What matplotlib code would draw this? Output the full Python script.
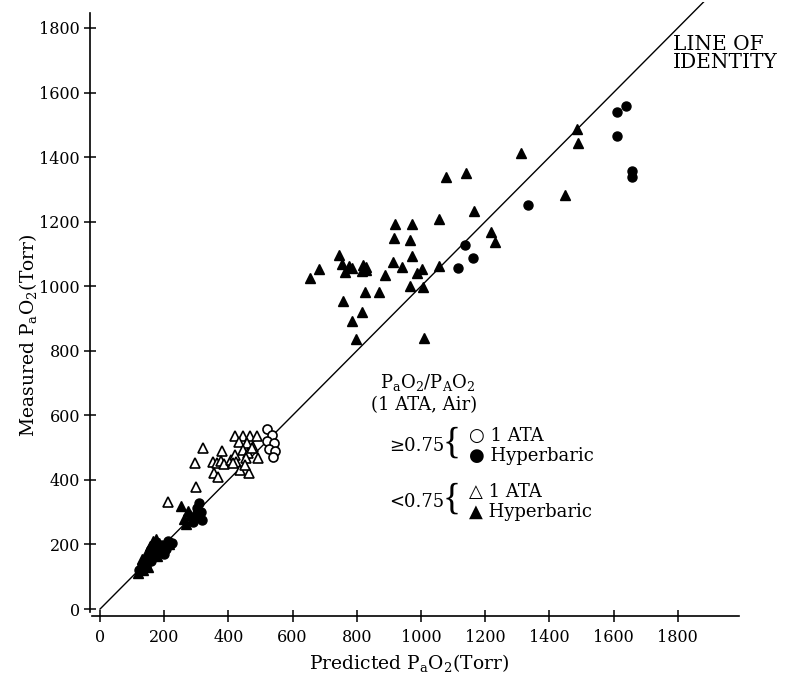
import numpy as np
import matplotlib
matplotlib.use("Agg")
import matplotlib.pyplot as plt

plt.rcParams.update({"font.family": ["DejaVu Serif", "DejaVu Sans"],
                     "mathtext.fontset": "dejavuserif"})

# P_aO2/P_AO2 >= 0.75, 1 ATA (open circles)
oc_x = [519, 535, 521, 542, 526, 545, 538]
oc_y = [557, 539, 521, 513, 495, 490, 470]

# P_aO2/P_AO2 >= 0.75, hyperbaric (filled circles)
fc_x = [1137, 1163, 1116, 1334, 1610, 1638, 1610, 1657, 1657,
        122, 130, 142, 158, 168, 182, 192, 205, 212, 225, 198, 160,
        302, 308, 315, 318, 300, 290]
fc_y = [1127, 1087, 1055, 1253, 1540, 1558, 1465, 1357, 1338,
        122, 135, 130, 185, 180, 190, 198, 185, 212, 205, 170, 150,
        312, 328, 300, 275, 285, 270]

# P_aO2/P_AO2 < 0.75, 1 ATA (open triangles)
ot_x = [320, 420, 444, 467, 488, 434, 457, 477, 446, 462, 472, 455, 380, 353,
        363, 376, 386, 407, 420, 424, 415, 436, 465, 355, 368, 493, 452,
        296, 299, 213]
ot_y = [498, 536, 536, 536, 536, 518, 513, 503, 493, 482, 498, 467, 490, 456,
        453, 459, 449, 462, 477, 456, 453, 431, 422, 420, 408, 467, 446,
        453, 377, 332]

# P_aO2/P_AO2 < 0.75, hyperbaric (filled triangles)
ft_x = [919, 971, 915, 967, 972, 912, 940, 1004, 986, 1057, 1079, 1139, 1164,
        1218, 1231, 1313, 1450, 1489, 1487, 1056, 965, 1005, 887, 825, 870,
        758, 817, 785, 798, 1009, 654, 683, 745, 753, 763, 775, 784, 820,
        828, 815, 830,
        118, 125, 135, 140, 132, 150, 145, 155, 165, 175, 172, 185, 162, 190,
        200, 178, 215, 150, 268, 262, 280, 295, 253, 275]
ft_y = [1193, 1193, 1150, 1142, 1095, 1075, 1058, 1054, 1042, 1207, 1337, 1350,
        1234, 1167, 1136, 1412, 1281, 1443, 1487, 1063, 1001, 997, 1035, 983,
        983, 954, 920, 892, 835, 839, 1026, 1053, 1096, 1069, 1045, 1063, 1055,
        1066, 1050, 1048, 1060,
        112, 128, 120, 145, 155, 160, 178, 195, 210, 218, 195, 205, 172, 180,
        192, 165, 200, 130, 265, 280, 290, 300, 318, 305]

ticks = [0, 200, 400, 600, 800, 1000, 1200, 1400, 1600, 1800]

fig = plt.figure(figsize=(7.86, 6.79), dpi=100)
ax = fig.add_axes([0.115, 0.0935, 0.829, 0.9034])
ax.set_xlim(-30, 2000)
ax.set_ylim(-20, 1880)

# line of identity
ax.plot([0, 1900], [0, 1900], color="black", lw=1.0, zorder=1)

ax.plot(fc_x, fc_y, "o", ms=6.5, mfc="black", mec="black", zorder=3)
ax.plot(ft_x, ft_y, "^", ms=7, mfc="black", mec="black", zorder=3)
ax.plot(oc_x, oc_y, "o", ms=6.5, mfc="white", mec="black", mew=1.2, zorder=4)
ax.plot(ot_x, ot_y, "^", ms=6.8, mfc="white", mec="black", mew=1.2, zorder=4)

for s in ["top", "right"]:
    ax.spines[s].set_visible(False)
ax.spines["left"].set_bounds(-8, 1846)
ax.spines["bottom"].set_bounds(-25, 1990)
ax.spines["left"].set_linewidth(1.2)
ax.spines["bottom"].set_linewidth(1.2)
ax.set_xticks(ticks)
ax.set_yticks(ticks)
ax.tick_params(direction="inout", length=9, width=1.1, labelsize=11.5)
ax.tick_params(axis="x", pad=5)
ax.tick_params(axis="y", pad=3)

ax.set_xlabel(r"Predicted P$_\mathregular{a}$O$_\mathregular{2}$(Torr)", fontsize=13.5, va="center")
ax.xaxis.set_label_coords(0.489, -0.077)
ax.set_ylabel(r"Measured P$_\mathregular{a}$O$_\mathregular{2}$(Torr)", fontsize=13.5, va="center")
ax.yaxis.set_label_coords(-0.096, 0.457)

ax.text(1785, 1778, "LINE OF\nIDENTITY", fontsize=14.5, ha="left", va="top", linespacing=0.95)

# legend block
fs = 13
ax.text(1021, 703, r"P$_\mathregular{a}$O$_\mathregular{2}$/P$_\mathregular{A}$O$_\mathregular{2}$",
        fontsize=fs, ha="center", va="center")
ax.text(1008, 633, "(1 ATA, Air)", fontsize=fs, ha="center", va="center")
ax.text(1072, 505, "≥0.75", fontsize=fs, ha="right", va="center")
ax.text(1072, 331, "<0.75", fontsize=fs, ha="right", va="center")
for yb in [505, 331]:
    ax.text(1095, yb + 8, "{", fontsize=27, ha="center", va="center",
            family=["Liberation Serif", "DejaVu Sans"])
ax.text(1148, 536, "○ 1 ATA", fontsize=fs, ha="left", va="center")
ax.text(1148, 474, "● Hyperbaric", fontsize=fs, ha="left", va="center")
ax.text(1148, 362, "△ 1 ATA", fontsize=fs, ha="left", va="center")
ax.text(1148, 300, "▲ Hyperbaric", fontsize=fs, ha="left", va="center")

fig.savefig("out.png", dpi=100)
